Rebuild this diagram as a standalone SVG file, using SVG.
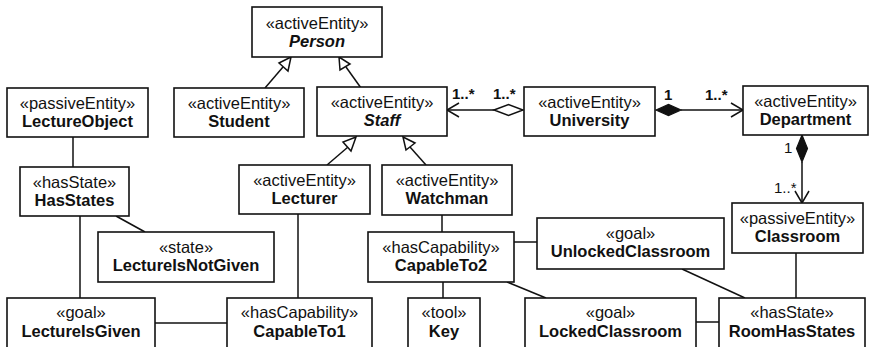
<svg xmlns="http://www.w3.org/2000/svg" width="872" height="347" viewBox="0 0 872 347">
  <style>
    .box { fill: #fff; stroke: #111; stroke-width: 1.6; }
    .st { font-family: "Liberation Sans", Arial, sans-serif; font-size: 16.5px; fill: #111; text-anchor: middle; }
    .nm { font-family: "Liberation Sans", Arial, sans-serif; font-size: 16.5px; font-weight: bold; fill: #111; text-anchor: middle; }
    .it { font-style: italic; }
    .ln { fill: none; stroke: #111; stroke-width: 1.5; }
    .gen { fill: #fff; stroke: #111; stroke-width: 1.5; }
    .agg { fill: #fff; stroke: #111; stroke-width: 1.5; }
    .cmp { fill: #111; stroke: #111; stroke-width: 1.2; }
    .mul { font-family: "Liberation Sans", Arial, sans-serif; font-size: 15px; font-weight: bold; fill: #111; }
    .mulr { font-family: "Liberation Sans", Arial, sans-serif; font-size: 15px; fill: #111; }
  </style>

  <!-- connectors -->
  <g id="connectors">
    <!-- generalizations to Person -->
    <line class="ln" x1="265" y1="88" x2="283" y2="67"/>
    <polygon class="gen" points="291,57 279,63 288,71"/>
    <line class="ln" x1="361" y1="88" x2="346" y2="67"/>
    <polygon class="gen" points="339,57 340,70 350,64"/>
    <!-- generalizations to Staff -->
    <line class="ln" x1="327" y1="165" x2="348" y2="147"/>
    <polygon class="gen" points="356,137 343,142 351,151"/>
    <line class="ln" x1="426" y1="165" x2="410" y2="147"/>
    <polygon class="gen" points="403,137 406,150 415,143"/>

    <!-- University aggregates Staff -->
    <line class="ln" x1="447" y1="110" x2="494" y2="110"/>
    <polyline class="ln" points="459,103 447,110 459,117"/>
    <polygon class="agg" points="494,110 508.5,104.5 523,110 508.5,115.5"/>
    <text class="mul" x="452" y="99">1..*</text>
    <text class="mul" x="493" y="99">1..*</text>

    <!-- University composed of Departments -->
    <polygon class="cmp" points="656,110 668.5,104.5 681,110 668.5,115.5"/>
    <line class="ln" x1="681" y1="110" x2="743" y2="110"/>
    <polyline class="ln" points="731,103 743,110 731,117"/>
    <text class="mul" x="664" y="100">1</text>
    <text class="mul" x="705" y="100">1..*</text>

    <!-- Department composed of Classrooms -->
    <polygon class="cmp" points="802,135 807.5,148.5 802,162 796.5,148.5"/>
    <line class="ln" x1="802" y1="162" x2="802" y2="203"/>
    <polyline class="ln" points="795,191 802,203 809,191"/>
    <text class="mulr" x="784" y="153">1</text>
    <text class="mulr" x="774" y="193">1..*</text>

    <!-- plain associations -->
    <line class="ln" x1="73" y1="137" x2="73" y2="167"/>
    <line class="ln" x1="116" y1="216" x2="145" y2="232"/>
    <line class="ln" x1="80" y1="216" x2="80" y2="298"/>
    <line class="ln" x1="155" y1="323" x2="227" y2="323"/>
    <line class="ln" x1="298" y1="214" x2="298" y2="298"/>
    <line class="ln" x1="442" y1="215" x2="442" y2="232"/>
    <line class="ln" x1="514" y1="242" x2="537" y2="242"/>
    <line class="ln" x1="443" y1="282" x2="443" y2="298"/>
    <line class="ln" x1="507" y1="282" x2="546" y2="298"/>
    <line class="ln" x1="682" y1="269" x2="745" y2="298"/>
    <line class="ln" x1="696" y1="322" x2="719" y2="322"/>
    <line class="ln" x1="796" y1="253" x2="796" y2="298"/>
  </g>

  <!-- nodes -->
  <g id="person">
    <rect class="box" x="252" y="7" width="130" height="50"/>
    <text class="st" x="317" y="29">«activeEntity»</text>
    <text class="nm it" x="317" y="47">Person</text>
  </g>
  <g id="lectureObject">
    <rect class="box" x="7" y="88" width="141" height="49"/>
    <text class="st" x="77.5" y="109">«passiveEntity»</text>
    <text class="nm" x="77.5" y="127">LectureObject</text>
  </g>
  <g id="student">
    <rect class="box" x="174" y="88" width="130" height="49"/>
    <text class="st" x="239" y="109">«activeEntity»</text>
    <text class="nm" x="239" y="127">Student</text>
  </g>
  <g id="staff">
    <rect class="box" x="317" y="87" width="130" height="49"/>
    <text class="st" x="382" y="108">«activeEntity»</text>
    <text class="nm it" x="382" y="126">Staff</text>
  </g>
  <g id="university">
    <rect class="box" x="524" y="87" width="131" height="49"/>
    <text class="st" x="589.5" y="108">«activeEntity»</text>
    <text class="nm" x="589.5" y="126">University</text>
  </g>
  <g id="department">
    <rect class="box" x="743" y="86" width="125" height="49"/>
    <text class="st" x="805.5" y="107">«activeEntity»</text>
    <text class="nm" x="805.5" y="125">Department</text>
  </g>
  <g id="hasStates">
    <rect class="box" x="20" y="167" width="109" height="49"/>
    <text class="st" x="74.5" y="188">«hasState»</text>
    <text class="nm" x="74.5" y="206">HasStates</text>
  </g>
  <g id="lecturer">
    <rect class="box" x="239" y="165" width="131" height="49"/>
    <text class="st" x="304.5" y="186">«activeEntity»</text>
    <text class="nm" x="304.5" y="204">Lecturer</text>
  </g>
  <g id="watchman">
    <rect class="box" x="382" y="165" width="130" height="50"/>
    <text class="st" x="447" y="186">«activeEntity»</text>
    <text class="nm" x="447" y="204">Watchman</text>
  </g>
  <g id="classroom">
    <rect class="box" x="732" y="203" width="131" height="50"/>
    <text class="st" x="797.5" y="224">«passiveEntity»</text>
    <text class="nm" x="797.5" y="242">Classroom</text>
  </g>
  <g id="unlockedClassroom">
    <rect class="box" x="537" y="218" width="187" height="51"/>
    <text class="st" x="630.5" y="239">«goal»</text>
    <text class="nm" x="630.5" y="257">UnlockedClassroom</text>
  </g>
  <g id="lectureIsNotGiven">
    <rect class="box" x="98" y="232" width="176" height="50"/>
    <text class="st" x="186" y="253">«state»</text>
    <text class="nm" x="186" y="271">LectureIsNotGiven</text>
  </g>
  <g id="capableTo2">
    <rect class="box" x="368" y="232" width="146" height="50"/>
    <text class="st" x="441" y="253">«hasCapability»</text>
    <text class="nm" x="441" y="271">CapableTo2</text>
  </g>
  <g id="lectureIsGiven">
    <rect class="box" x="7" y="298" width="148" height="54"/>
    <text class="st" x="81" y="318">«goal»</text>
    <text class="nm" x="81" y="337">LectureIsGiven</text>
  </g>
  <g id="capableTo1">
    <rect class="box" x="227" y="298" width="145" height="54"/>
    <text class="st" x="299.5" y="318">«hasCapability»</text>
    <text class="nm" x="299.5" y="337">CapableTo1</text>
  </g>
  <g id="key">
    <rect class="box" x="408" y="298" width="72" height="54"/>
    <text class="st" x="444" y="318">«tool»</text>
    <text class="nm" x="444" y="337">Key</text>
  </g>
  <g id="lockedClassroom">
    <rect class="box" x="525" y="298" width="171" height="54"/>
    <text class="st" x="610.5" y="318">«goal»</text>
    <text class="nm" x="610.5" y="337">LockedClassroom</text>
  </g>
  <g id="roomHasStates">
    <rect class="box" x="719" y="298" width="146" height="54"/>
    <text class="st" x="792" y="318">«hasState»</text>
    <text class="nm" x="792" y="337">RoomHasStates</text>
  </g>
</svg>
